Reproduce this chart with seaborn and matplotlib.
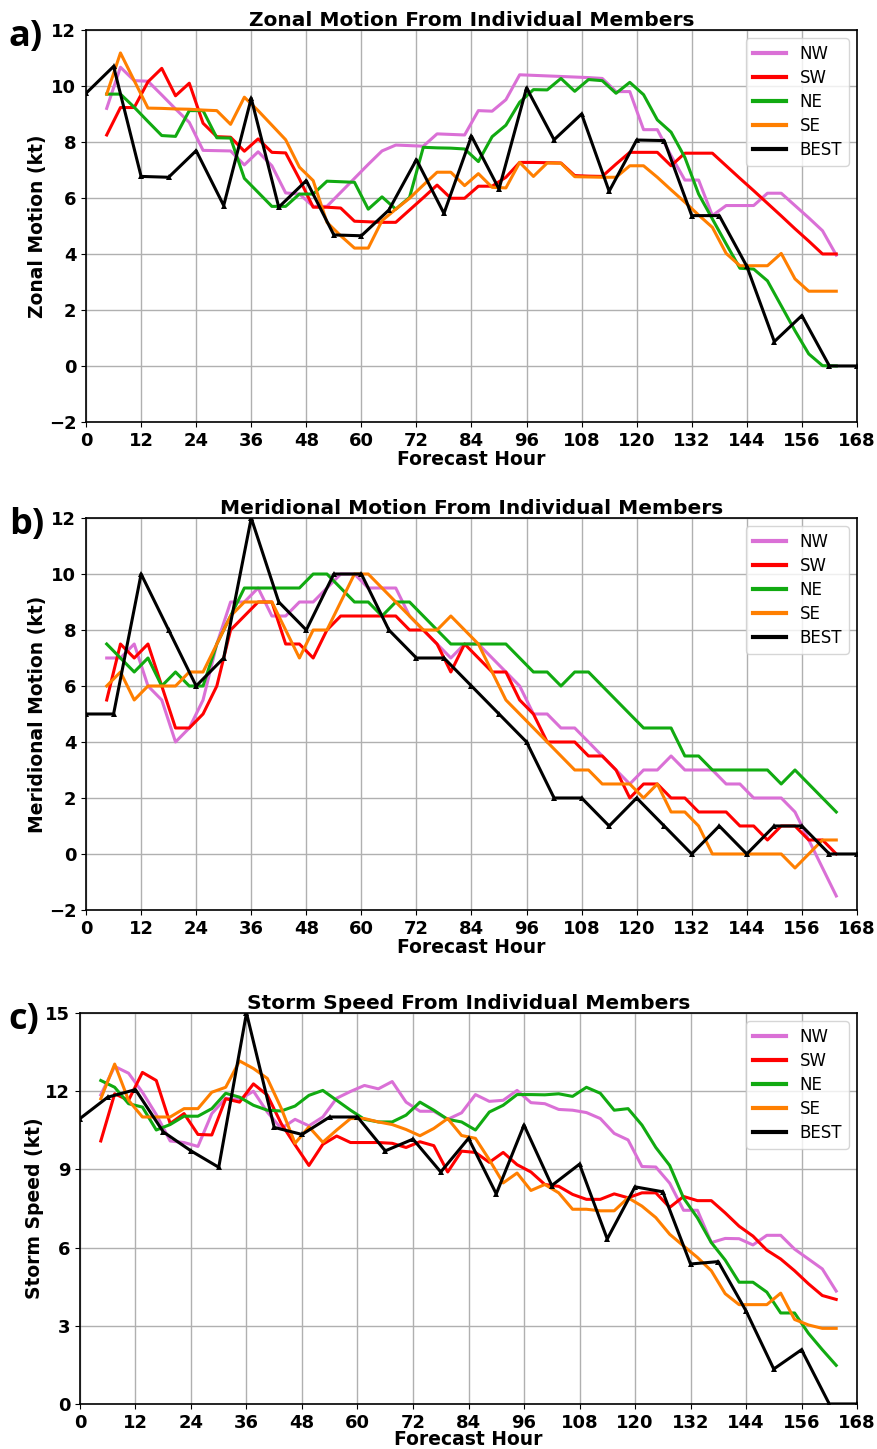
#Importing neccessary packages and libraries
import numpy as np
import pandas as pd
import matplotlib
matplotlib.use("Agg")
import matplotlib.pyplot as plt
import seaborn as sns

#forecast hours (members are plotted at the mid point of every 3 h step, best track every 6 h)
member_hours = np.arange(4.5, 164, 3)
best_hours = np.arange(0, 169, 6)

members = ['NW', 'SW', 'NE', 'SE']
member_colors = ['orchid', '#ff0000', '#11aa11', '#ff7f00']

#zonal motion (kt)
zonal_nw = [9.2, 10.67, 10.19, 10.17, 9.68, 9.18, 8.7, 7.7, 7.69, 7.68, 7.18, 7.65, 7.15, 6.18, 6.14, 5.7, 5.7, 6.2,
            6.7, 7.2, 7.68, 7.89, 7.87, 7.85, 8.29, 8.27, 8.25, 9.12, 9.1, 9.51, 10.4, 10.38, 10.36, 10.34, 10.32, 10.3,
            10.27, 9.8, 9.8, 8.44, 8.44, 7.51, 6.64, 6.64, 5.37, 5.73, 5.73, 5.73, 6.17, 6.17, 5.73, 5.29, 4.83, 3.96]
zonal_sw = [8.25, 9.23, 9.23, 10.15, 10.63, 9.65, 10.1, 8.67, 8.19, 8.17, 7.67, 8.11, 7.63, 7.61, 6.68, 5.67, 5.67, 5.64,
            5.17, 5.15, 5.13, 5.13, 5.57, 6.01, 6.46, 5.99, 5.99, 6.42, 6.42, 6.74, 7.27, 7.27, 7.26, 7.25, 6.8, 6.78,
            6.77, 7.21, 7.63, 7.63, 7.63, 7.15, 7.6, 7.6, 7.6, 7.15, 6.7, 6.26, 5.81, 5.36, 4.9, 4.46, 4.0, 4.0]
zonal_ne = [9.71, 9.71, 9.24, 8.73, 8.23, 8.2, 9.12, 9.12, 8.15, 8.14, 6.7, 6.2, 5.7, 5.7, 6.14, 6.14, 6.6, 6.58,
            6.56, 5.6, 6.04, 5.6, 6.02, 7.81, 7.79, 7.78, 7.75, 7.3, 8.19, 8.6, 9.42, 9.87, 9.86, 10.27, 9.81, 10.23,
            10.19, 9.74, 10.13, 9.69, 8.79, 8.35, 7.45, 6.14, 5.25, 4.36, 3.49, 3.46, 3.04, 2.15, 1.26, 0.43, 0.01, 0.0]
zonal_se = [9.71, 11.18, 10.19, 9.21, 9.2, 9.18, 9.17, 9.14, 9.12, 8.63, 9.6, 9.12, 8.6, 8.08, 7.1, 6.62, 5.13, 4.65,
            4.21, 4.21, 5.19, 5.6, 5.99, 6.46, 6.92, 6.92, 6.44, 6.87, 6.38, 6.36, 7.27, 6.77, 7.25, 7.24, 6.76, 6.75,
            6.74, 6.74, 7.15, 7.15, 6.74, 6.29, 5.85, 5.39, 4.95, 4.02, 3.58, 3.58, 3.58, 4.02, 3.11, 2.67, 2.67, 2.67]
zonal_best = [9.74, 10.7, 6.77, 6.74, 7.69, 5.73, 9.56, 5.67, 6.62, 4.68, 4.65, 5.57, 7.37, 5.45, 8.21, 6.32, 9.93,
              8.08, 9.0, 6.24, 8.07, 8.05, 5.37, 5.37, 3.56, 0.87, 1.8, 0.0, 0.0]

#meridional motion (kt)
merid_nw = [7.0, 7.0, 7.5, 6.0, 5.5, 4.0, 4.5, 5.5, 7.5, 9.0, 9.0, 9.5, 8.5, 8.5, 9.0, 9.0, 9.5, 10.0,
            10.0, 9.5, 9.5, 9.5, 8.5, 8.0, 7.5, 7.0, 7.5, 7.5, 7.0, 6.5, 6.0, 5.0, 5.0, 4.5, 4.5, 4.0,
            3.5, 3.0, 2.5, 3.0, 3.0, 3.5, 3.0, 3.0, 3.0, 2.5, 2.5, 2.0, 2.0, 2.0, 1.5, 0.5, -0.5, -1.5]
merid_sw = [5.5, 7.5, 7.0, 7.5, 6.0, 4.5, 4.5, 5.0, 6.0, 8.0, 8.5, 9.0, 9.0, 7.5, 7.5, 7.0, 8.0, 8.5,
            8.5, 8.5, 8.5, 8.5, 8.0, 8.0, 7.5, 6.5, 7.5, 7.0, 6.5, 6.5, 5.5, 5.0, 4.0, 4.0, 4.0, 3.5,
            3.5, 3.0, 2.0, 2.5, 2.5, 2.0, 2.0, 1.5, 1.5, 1.5, 1.0, 1.0, 0.5, 1.0, 1.0, 0.5, 0.5, 0.0]
merid_ne = [7.5, 7.0, 6.5, 7.0, 6.0, 6.5, 6.0, 6.0, 7.5, 8.5, 9.5, 9.5, 9.5, 9.5, 9.5, 10.0, 10.0, 9.5,
            9.0, 9.0, 8.5, 9.0, 9.0, 8.5, 8.0, 7.5, 7.5, 7.5, 7.5, 7.5, 7.0, 6.5, 6.5, 6.0, 6.5, 6.5,
            6.0, 5.5, 5.0, 4.5, 4.5, 4.5, 3.5, 3.5, 3.0, 3.0, 3.0, 3.0, 3.0, 2.5, 3.0, 2.5, 2.0, 1.5]
merid_se = [6.0, 6.5, 5.5, 6.0, 6.0, 6.0, 6.5, 6.5, 7.5, 8.5, 9.0, 9.0, 9.0, 8.0, 7.0, 8.0, 8.0, 9.0,
            10.0, 10.0, 9.5, 9.0, 8.5, 8.0, 8.0, 8.5, 8.0, 7.5, 6.5, 5.5, 5.0, 4.5, 4.0, 3.5, 3.0, 3.0,
            2.5, 2.5, 2.5, 2.0, 2.5, 1.5, 1.5, 1.0, 0.0, 0.0, 0.0, 0.0, 0.0, 0.0, -0.5, 0.0, 0.5, 0.5]
merid_best = [5, 5, 10, 8, 6, 7, 12, 9, 8, 10, 10, 8, 7, 7, 6, 5, 4, 2, 2, 1, 2, 1, 0, 1, 0, 1, 1, 0, 0]

#storm speed (kt)
speed_nw = [11.86, 12.95, 12.69, 11.96, 11.1, 10.09, 10.03, 9.88, 11.14, 11.73, 11.68, 12.0, 11.2, 10.57, 10.92,
            10.67, 11.01, 11.73, 11.99, 12.22, 12.09, 12.37, 11.58, 11.23, 11.23, 10.92, 11.17, 11.87, 11.61, 11.65,
            12.03, 11.56, 11.52, 11.3, 11.27, 11.18, 10.95, 10.38, 10.13, 9.11, 9.09, 8.47, 7.43, 7.43, 6.19, 6.35,
            6.34, 6.1, 6.47, 6.47, 5.94, 5.56, 5.18, 4.33]
speed_sw = [10.09, 11.9, 11.65, 12.72, 12.41, 10.76, 11.14, 10.34, 10.32, 11.71, 11.58, 12.28, 11.85, 10.76, 9.94,
            9.15, 9.96, 10.28, 10.03, 10.03, 10.03, 10.0, 9.84, 10.06, 9.91, 8.9, 9.7, 9.65, 9.27, 9.65, 9.18, 8.9,
            8.42, 8.35, 8.04, 7.85, 7.85, 8.06, 7.91, 8.1, 8.1, 7.54, 7.96, 7.8, 7.8, 7.33, 6.82, 6.44, 5.9, 5.56,
            5.11, 4.61, 4.16, 4.01]
speed_ne = [12.41, 12.15, 11.52, 11.39, 10.51, 10.72, 11.04, 11.04, 11.33, 11.92, 11.77, 11.46, 11.27, 11.24, 11.43,
            11.84, 12.03, 11.65, 11.27, 10.92, 10.82, 10.82, 11.08, 11.58, 11.27, 10.92, 10.82, 10.51, 11.2, 11.46,
            11.87, 11.87, 11.86, 11.9, 11.8, 12.15, 11.92, 11.27, 11.33, 10.7, 9.84, 9.15, 7.9, 7.14, 6.19, 5.52,
            4.67, 4.67, 4.29, 3.49, 3.49, 2.71, 2.08, 1.48]
speed_se = [11.71, 13.04, 11.65, 11.01, 11.01, 11.01, 11.33, 11.33, 11.96, 12.15, 13.16, 12.87, 12.49, 11.35, 10.0,
            10.63, 10.04, 10.51, 10.95, 10.95, 10.82, 10.72, 10.53, 10.29, 10.57, 10.95, 10.3, 10.19, 9.37, 8.48,
            8.86, 8.19, 8.42, 8.1, 7.47, 7.47, 7.41, 7.41, 7.91, 7.59, 7.15, 6.51, 6.06, 5.62, 5.11, 4.23, 3.81,
            3.81, 3.81, 4.25, 3.24, 3.03, 2.9, 2.9]
speed_best = [10.95, 11.77, 12.06, 10.44, 9.71, 9.08, 15.0, 10.61, 10.34, 11.01, 11.01, 9.71, 10.16, 8.9, 10.19,
              8.06, 10.7, 8.38, 9.2, 6.33, 8.33, 8.14, 5.37, 5.46, 3.57, 1.34, 2.08, 0.0, 0.0]

#panel settings: (label, title, ylabel, member data, best data, ylim, yticks, axes rect)
panels = [
    ('a)', 'Zonal Motion From Individual Members', 'Zonal Motion (kt)',
     [zonal_nw, zonal_sw, zonal_ne, zonal_se], zonal_best, (-2, 12), np.arange(-2, 13, 2),
     [0.098, 0.7088, 0.878, 0.2705]),
    ('b)', 'Meridional Motion From Individual Members', 'Meridional Motion (kt)',
     [merid_nw, merid_sw, merid_ne, merid_se], merid_best, (-2, 12), np.arange(-2, 13, 2),
     [0.098, 0.372, 0.878, 0.2705]),
    ('c)', 'Storm Speed From Individual Members', 'Storm Speed (kt)',
     [speed_nw, speed_sw, speed_ne, speed_se], speed_best, (0, 15), np.arange(0, 16, 3),
     [0.0911, 0.0311, 0.885, 0.2698]),
]

fig = plt.figure(figsize=(8.78, 14.49), dpi=100)

for label, title, ylabel, member_data, best, ylim, yticks, rect in panels:
    ax = fig.add_axes(rect)
    #members in long form so seaborn handles hue and colours
    df = pd.DataFrame({
        'hour': np.tile(member_hours, len(members)),
        'value': np.concatenate(member_data),
        'member': np.repeat(members, len(member_hours)),
    })
    sns.lineplot(data=df, x='hour', y='value', hue='member', hue_order=members,
                 palette=member_colors, estimator=None, sort=False, lw=2.2, ax=ax)
    sns.lineplot(x=best_hours, y=best, color='black', lw=2.2, marker='^', markersize=4,
                 markeredgewidth=0, label='BEST', ax=ax)

    ax.set_xlim(0, 168)
    ax.set_xticks(np.arange(0, 169, 12))
    ax.set_ylim(*ylim)
    ax.set_yticks(yticks)
    ax.grid(True, color='#b0b0b0', linewidth=1)
    ax.set_axisbelow(True)
    for lab in ax.get_xticklabels() + ax.get_yticklabels():
        lab.set_fontweight('bold')
        lab.set_fontsize(13)
    pad = -1 if label == 'c)' else 0
    ax.set_xlabel('Forecast Hour', fontsize=13.5, fontweight='bold', labelpad=pad)
    ax.set_ylabel(ylabel, fontsize=13.5, fontweight='bold', labelpad=1)
    ax.set_title(title, fontsize=14.5, fontweight='bold', pad=3)
    for sp in ax.spines.values():
        sp.set_color('black')
        sp.set_linewidth(1.2)

    handles, labels = ax.get_legend_handles_labels()
    leg = ax.legend(handles, labels, loc='upper right', fontsize=12, labelspacing=0.36)
    for line in leg.get_lines():
        line.set_linewidth(3)
        line.set_marker('')

    #panel letter
    pos = ax.get_position()
    fig.text(0.01, pos.y1 - 0.005, label, fontsize=26, fontweight='bold',
             family='Open Sans', va='center', ha='left')

plt.savefig('out.png', dpi=100)
plt.close()
